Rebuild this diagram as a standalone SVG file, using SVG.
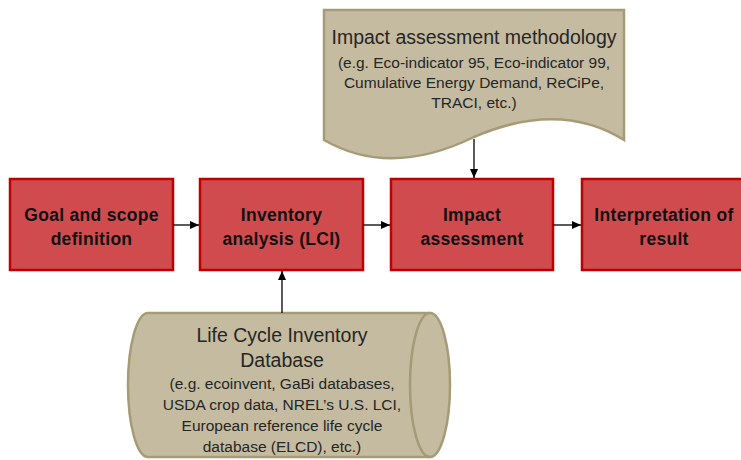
<svg xmlns="http://www.w3.org/2000/svg" width="741" height="460" viewBox="0 0 741 460">
<defs>
<marker id="ah" markerWidth="10" markerHeight="10" refX="9" refY="4" orient="auto" markerUnits="userSpaceOnUse">
<path d="M0,0 L9,4 L0,8 Z" fill="#000"/>
</marker>
<style>
.box{fill:#D04B4E;stroke:#C00000;stroke-width:2.5}
.tan{fill:#C4BBA0;stroke:#A69B77;stroke-width:2.5}
.bt{font-family:"Liberation Sans",Arial,sans-serif;font-weight:bold;font-size:17.5px;letter-spacing:0.3px;fill:#111;text-anchor:middle}
.t1{font-family:"Liberation Sans",Arial,sans-serif;font-size:19.5px;fill:#262626;text-anchor:middle}
.t2{font-family:"Liberation Sans",Arial,sans-serif;font-size:15.5px;fill:#262626;text-anchor:middle}
.c{stroke:#000;stroke-width:1.3;fill:none;marker-end:url(#ah)}
</style>
</defs>
<rect width="741" height="460" fill="#fff"/>
<g id="method">
<path class="tan" d="M324,10 L624,10 L624,140 Q560,100 474,137 Q390,178 324,140 Z"/>
<text class="t1" x="474" y="44">Impact assessment methodology</text>
<text class="t2" x="474" y="68">(e.g. Eco-indicator 95, Eco-indicator 99,</text>
<text class="t2" x="474" y="88">Cumulative Energy Demand, ReCiPe,</text>
<text class="t2" x="474" y="108">TRACI, etc.)</text>
</g>
<g id="goal">
<rect class="box" x="10" y="179" width="163" height="91"/>
<text class="bt" x="91.5" y="221">Goal and scope</text>
<text class="bt" x="91.5" y="245">definition</text>
</g>
<g id="inventory">
<rect class="box" x="200" y="179" width="163" height="91"/>
<text class="bt" x="281.5" y="221">Inventory</text>
<text class="bt" x="281.5" y="245">analysis (LCI)</text>
</g>
<g id="impact">
<rect class="box" x="391" y="179" width="162" height="91"/>
<text class="bt" x="472" y="221">Impact</text>
<text class="bt" x="472" y="245">assessment</text>
</g>
<g id="interpretation">
<rect class="box" x="582" y="179" width="163" height="91"/>
<text class="bt" x="664" y="221">Interpretation of</text>
<text class="bt" x="664" y="245">result</text>
</g>
<g id="database">
<path class="tan" d="M148,313 L430,313 A20,72 0 0 1 430,457 L148,457 A20,72 0 0 1 148,313 Z"/>
<path class="tan" d="M430,313 A20,72 0 0 0 430,457" fill="none"/>
<text class="t1" x="282" y="342">Life Cycle Inventory</text>
<text class="t1" x="282" y="367">Database</text>
<text class="t2" x="282" y="389">(e.g. ecoinvent, GaBi databases,</text>
<text class="t2" x="282" y="410">USDA crop data, NREL’s U.S. LCI,</text>
<text class="t2" x="282" y="431">European reference life cycle</text>
<text class="t2" x="282" y="452">database (ELCD), etc.)</text>
</g>
<g id="connectors">
<line class="c" x1="173" y1="225" x2="199" y2="225"/>
<line class="c" x1="363" y1="225" x2="390" y2="225"/>
<line class="c" x1="553" y1="225" x2="581" y2="225"/>
<line class="c" x1="474" y1="139" x2="474" y2="178"/>
<line class="c" x1="282" y1="313" x2="282" y2="271"/>
</g>
</svg>
